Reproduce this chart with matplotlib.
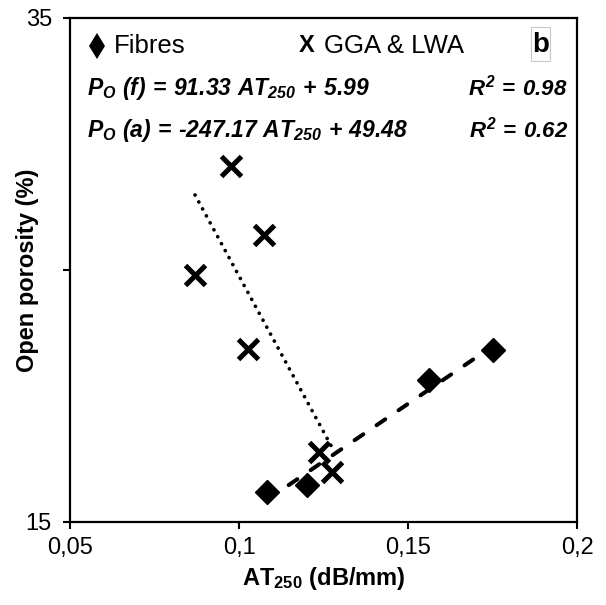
import matplotlib
matplotlib.use("Agg")
import matplotlib.pyplot as plt
from matplotlib.patches import Rectangle
import numpy as np

plt.rcParams['font.family'] = ['Liberation Sans', 'DejaVu Sans']
plt.rcParams['mathtext.fontset'] = 'custom'
plt.rcParams['mathtext.rm'] = 'Liberation Sans:bold:italic'
plt.rcParams['mathtext.it'] = 'Liberation Sans:bold:italic'
plt.rcParams['mathtext.bf'] = 'Liberation Sans:bold'

# Data
fibres_x = [0.1082, 0.1200, 0.1563, 0.1751]
fibres_y = [16.20, 16.47, 20.63, 21.83]
agg_x = [0.0976, 0.1074, 0.0870, 0.1027, 0.1237, 0.1275]
agg_y = [29.13, 26.39, 24.80, 21.87, 17.78, 16.98]
fit_f = (91.33, 5.99)
fit_a = (-247.17, 49.48)
xticks = [0.05, 0.1, 0.15, 0.2]
xticklabels = ['0,05', '0,1', '0,15', '0,2']
yticks = [15, 25, 35]
yticklabels = ['15', '', '35']

fig = plt.figure(figsize=(6.06, 6.05), dpi=100)
ax = fig.add_axes([70/606, 1-522/605, (577-70)/606, (522-18)/605])

ax.plot(fibres_x, fibres_y, linestyle='none', marker='D', ms=12, color='black', zorder=3)
ax.plot(agg_x, agg_y, linestyle='none', marker='x', ms=14, mew=3.6, color='black', zorder=3)

xf = np.array([min(fibres_x), max(fibres_x)])
ax.plot(xf, fit_f[0]*xf + fit_f[1], color='black', lw=2.9, linestyle=(0, (2.6, 4.0)),
        dash_capstyle='round', zorder=2)
xa = np.array([min(agg_x), max(agg_x)])
ax.plot(xa, fit_a[0]*xa + fit_a[1], color='black', lw=2.7, linestyle=(0, (0.01, 2.1)),
        dash_capstyle='round', zorder=2)

ax.set_xlim(0.05, 0.2)
ax.set_ylim(15, 35)
ax.set_xticks(xticks)
ax.set_xticklabels(xticklabels)
ax.set_yticks(yticks)
ax.set_yticklabels(yticklabels)
ax.tick_params(axis='both', direction='out', length=5, width=1.5, labelsize=17, color='black')
ax.tick_params(axis='x', pad=6)
ax.tick_params(axis='y', pad=8)
for s in ax.spines.values():
    s.set_linewidth(1.6)

ax.set_xlabel(r'$\mathbf{AT_{250}\ (dB/mm)}$', fontsize=17, labelpad=4)
ax.set_ylabel('Open porosity (%)', fontsize=17, fontweight='bold', va='center')
ax.yaxis.set_label_coords((28 - 70) / 507, 0.5)

# Legend-like annotations
def px(x, y):
    return (x - 70) / 507, (522 - y) / 504

ax.plot(*px(97, 46), transform=ax.transAxes, marker='d', ms=13, mew=0, color='black', clip_on=False)
ax.text(*px(114, 46), 'Fibres', transform=ax.transAxes, fontsize=18.5, va='center', ha='left')
ax.text(*px(307, 46), 'X', transform=ax.transAxes, fontsize=17, fontweight='bold', va='center', ha='center')
ax.text(*px(324, 46), 'GGA & LWA', transform=ax.transAxes, fontsize=18.5, va='center', ha='left')
x0, y0 = px(531, 61)
x1, y1 = px(550, 27)
ax.add_patch(Rectangle((x0, y0), x1 - x0, y1 - y0, transform=ax.transAxes, fc='white',
                       ec='#c8c8c8', lw=0.8, zorder=4))
ax.text(*px(540.5, 45), 'b', transform=ax.transAxes, fontsize=20, fontweight='bold', va='center',
        ha='center', zorder=5)

ax.text(*px(87, 88), r'$P_{O}\ (f)\,=\,91.33\ AT_{250}\,+\,5.99$', transform=ax.transAxes,
        fontsize=16.5, va='center', ha='left')
ax.text(*px(568, 88), r'$R^{2}\,=\,0.98$', transform=ax.transAxes, fontsize=16, va='center', ha='right')
ax.text(*px(87, 130), r'$P_{O}\ (a)\,=\,\text{-}247.17\ AT_{250}\,+\,49.48$', transform=ax.transAxes,
        fontsize=16.5, va='center', ha='left')
ax.text(*px(568, 130), r'$R^{2}\,=\,0.62$', transform=ax.transAxes, fontsize=16, va='center', ha='right')

fig.savefig('out.png', dpi=100)
